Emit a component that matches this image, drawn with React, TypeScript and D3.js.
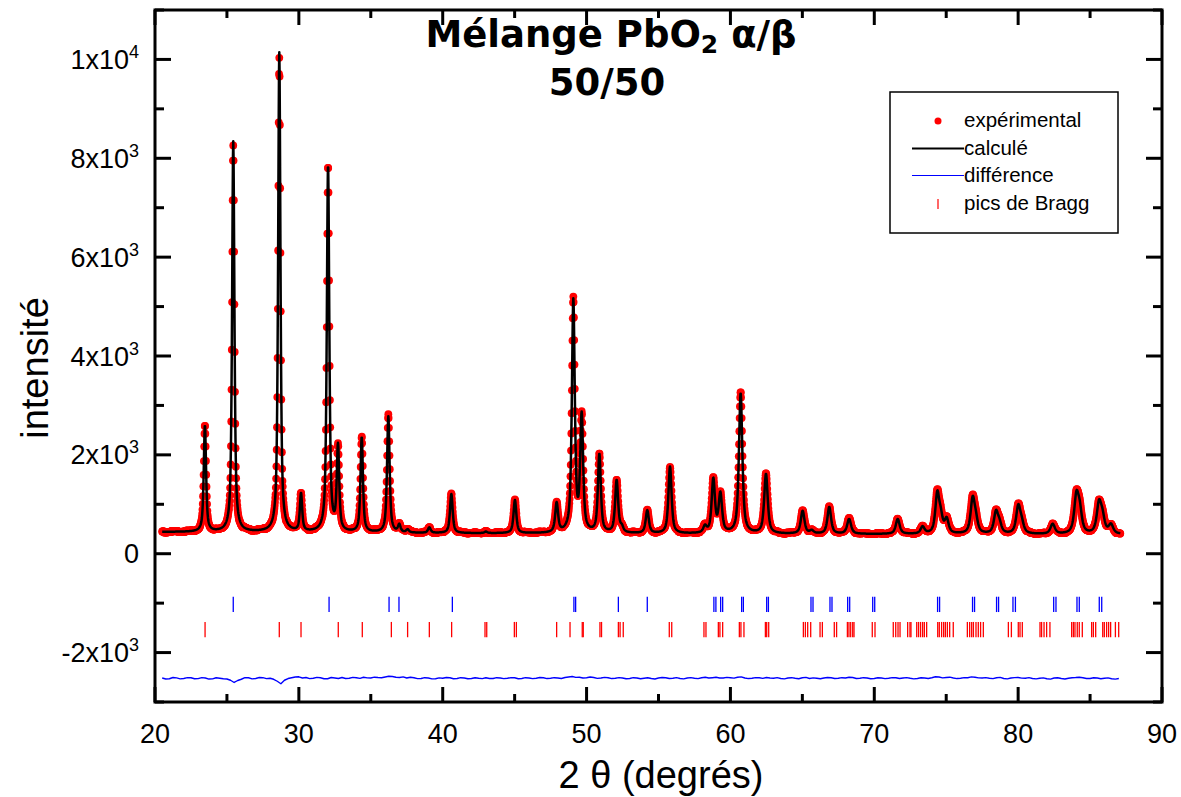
import React, { useMemo } from 'react'
import * as d3 from 'd3'

// --- data ---

// reflections of the refined profile (2θ in degrees, height above background in counts, FWHM in degrees)
const peakCentres = [
  23.47, 25.44, 28.64, 30.15, 32.03, 32.72, 34.37, 36.22, 36.98, 37.56, 39.07, 40.6, 43.0, 45.02,
  47.92, 49.08, 49.66, 50.89, 52.09, 52.45, 54.22, 55.8, 58.23, 58.81, 59.3, 60.71, 62.47, 65.02,
  65.65, 66.87, 68.25, 71.63, 73.36, 74.38, 74.62, 75.03, 76.84, 77.06, 78.46, 78.7, 80.01, 80.25,
  82.4, 84.05, 84.28, 85.62, 85.86, 86.45,
]
const peakHeights = [
  2150, 7900, 9700, 760, 7420, 1700, 1920, 2350, 150, 60, 110, 790, 30, 670,
  590, 4680, 2320, 1580, 1060, 100, 460, 1350, 130, 1080, 780, 2830, 1200, 460,
  60, 540, 300, 300, 140, 780, 300, 280, 680, 230, 420, 180, 540, 180,
  200, 720, 420, 580, 300, 180,
]
const peakWidths = [
  0.19, 0.19, 0.19, 0.19, 0.2, 0.2, 0.2, 0.21, 0.21, 0.22, 0.22, 0.22, 0.22, 0.23,
  0.24, 0.24, 0.24, 0.24, 0.25, 0.25, 0.26, 0.26, 0.27, 0.27, 0.28, 0.28, 0.29, 0.3,
  0.3, 0.3, 0.32, 0.32, 0.32, 0.32, 0.32, 0.32, 0.34, 0.34, 0.34, 0.34, 0.35, 0.35,
  0.36, 0.36, 0.36, 0.37, 0.37, 0.37,
]
const lorentzFraction = 0.7

// background level
const bgAngles = [20.5, 40, 60, 87.1]
const bgCounts = [440, 415, 400, 390]

// scan range
const scanStart = 20.5
const scanEnd = 87.1
const scanStep = 0.02

// difference curve (obs - calc), drawn around -2520, one value every 0.25°
const diffOffset = -2520
const diffStart = 20.5
const diffStep = 0.25
const diffValues = [
  5, -15, -10, 15, 8, -12, -5, 12, 10, -10, -8, 14, 5, -16, -12, 10, 0, -10, -15, -40,
  -85, -45, -20, 12, 10, -12, -5, 15, 12, -8, 0, -20, -60, -110, -40, -5, 10, 25, 30, 5,
  15, -8, 0, 18, 10, -10, -10, 15, 5, -5, 15, -5, 0, 18, 10, -2, 20, 8, 5, 22,
  15, 10, 25, 40, 35, 20, 15, 28, 5, 20, 10, -8, -5, 12, 5, -12, -10, 8, 0, 15,
  10, -10, -5, 12, 5, -10, -5, 10, 0, -8, 10, -5, -5, 12, 5, -8, 0, 14, 10, -10,
  -5, 12, 5, -8, 0, 15, 10, -6, 0, 12, 5, -4, 15, 25, 35, 18, 20, 5, 10, 25,
  15, -2, 5, 18, 10, -6, 0, 14, 5, -10, -5, 12, 5, -10, 0, 10, -5, -14, 5, 15,
  10, -5, 0, 12, -5, -12, 5, 14, 0, -8, 10, 20, 5, 12, 20, 6, 5, 18, 10, 2,
  20, 28, 5, -6, 0, 14, 10, -2, 15, 6, 0, 12, -5, -12, 5, 12, 0, -10, 10, 18,
  -5, 8, 0, -10, 5, 16, 10, -4, 0, 12, 5, 20, 15, -5, 0, 12, 5, -10, -5, 10,
  5, -8, 0, 14, 10, -4, 5, 14, 0, -12, -5, 10, 5, -4, 10, 30, 25, 8, 15, 22,
  5, -6, 0, 14, 10, 28, 20, 8, 5, 14, 0, -8, 10, 18, -5, -12, 5, 14, 15, 4,
  0, 12, -5, -12, 0, 8, -10, -18, 5, 10, -5, -14, 0, 10, 15, 22, 10, -4, -5, 10,
  5, -10, 0, 8, -10, -18, -5,
]

// Bragg positions: phase 1 (blue row) and phase 2 (red row)
const braggBlue = [
  25.44, 32.1, 36.27, 36.96, 40.67, 49.12, 49.24, 52.21, 54.22, 58.85, 58.99, 59.32, 59.46,
  60.78, 60.9, 62.52, 62.64, 65.6, 65.74, 66.92, 67.06, 68.15, 68.29, 69.89, 70.03, 74.4,
  74.54, 76.83, 76.97, 78.5, 78.64, 79.64, 79.81, 82.47, 82.63, 84.09, 84.25, 85.64, 85.81,
]
const braggRed = [
  23.48, 28.64, 30.15, 32.74, 34.41, 36.43, 37.56, 39.07, 40.62, 42.94, 43.06, 44.98, 45.12,
  47.92, 48.85, 49.7, 49.77, 50.93, 51.04, 52.21, 52.33, 52.55, 55.75, 55.92, 58.16, 58.3,
  59.16, 59.27, 59.46, 60.62, 60.73, 60.94, 62.43, 62.52, 62.66, 65.07, 65.21, 65.37, 65.58,
  66.23, 66.39, 67.22, 67.38, 68.13, 68.24, 68.36, 68.5, 68.59, 69.86, 70.05, 71.32, 71.49,
  71.65, 71.79, 72.32, 72.48, 72.55, 72.95, 73.08, 73.22, 73.36, 73.48, 73.64, 74.41, 74.52,
  74.68, 74.82, 74.94, 75.08, 75.24, 75.49, 76.47, 76.63, 76.77, 76.89, 77.07, 77.23, 77.39,
  77.58, 79.32, 79.53, 80.01, 80.13, 80.29, 81.52, 81.63, 81.8, 81.98, 82.21, 83.72, 83.84,
  83.95, 84.11, 84.25, 84.46, 85.11, 85.23, 85.39, 85.88, 85.99, 86.15, 86.29, 86.43, 86.76,
  86.99,
]
const braggBlueLevel = [-870, -1180]
const braggRedLevel = [-1380, -1690]

// axes
const xMajorTicks = [20, 30, 40, 50, 60, 70, 80, 90]
const xMinorTicks = [25, 35, 45, 55, 65, 75, 85]
const yMajorTicks = [-2000, 0, 2000, 4000, 6000, 8000, 10000]
const yMinorTicks = [-3000, -1000, 1000, 3000, 5000, 7000, 9000, 11000]
const yTickMantissa = ['-2x10', '0', '2x10', '4x10', '6x10', '8x10', '1x10']
const yTickExponent = ['3', '', '3', '3', '3', '3', '4']

const legendLabels = ['expérimental', 'calculé', 'différence', 'pics de Bragg']

const FONT = '"Liberation Sans", Arial, Helvetica, sans-serif'
const TITLE_FONT = '"Comic Sans MS", "DejaVu Sans", sans-serif'

function profileAt(t: number, bg: (v: number) => number) {
  let s = bg(t)
  for (let i = 0; i < peakCentres.length; i++) {
    const d = (t - peakCentres[i]) / peakWidths[i]
    if (Math.abs(d) > 60) continue
    const d2 = 4 * d * d
    const lor = 1 / (1 + d2)
    const gau = Math.exp(-Math.LN2 * d2)
    s += peakHeights[i] * (lorentzFraction * lor + (1 - lorentzFraction) * gau)
  }
  return s
}

export default function App() {
  const x = d3.scaleLinear().domain([20, 90]).range([155, 1162])
  const y = d3.scaleLinear().domain([-3000, 11000]).range([702, 10])
  const bg = d3.scaleLinear().domain(bgAngles).range(bgCounts)

  // calculated profile on the scan grid
  const profile = useMemo(() => {
    const n = Math.round((scanEnd - scanStart) / scanStep)
    return d3.range(n + 1).map(i => {
      const t = scanStart + i * scanStep
      return [t, profileAt(t, bg)] as [number, number]
    })
  }, [])

  // observed = calculated + residual (nearest difference value)
  const observed = profile.map(([t, c]) => {
    const k = Math.min(diffValues.length - 1, Math.max(0, Math.round((t - diffStart) / diffStep)))
    return [t, c + diffValues[k]] as [number, number]
  })

  const calcLine = d3.line<[number, number]>().x(d => x(d[0])).y(d => y(d[1]))(profile) || ''
  const diffLine =
    d3
      .line<number>()
      .x((_, i) => x(diffStart + i * diffStep))
      .y(d => y(diffOffset + d))(diffValues) || ''

  const [x0, x1] = x.range()
  const [yb, yt] = y.range()

  return (
    <svg width={1181} height={797} style={{ position: 'absolute', left: 0, top: 0, background: '#fff' }}>
      {/* experimental points */}
      <g fill="#ff0000">
        {observed.map((d, i) => (
          <circle key={i} cx={x(d[0])} cy={y(d[1])} r={3.9} />
        ))}
      </g>
      {/* calculated profile */}
      <path d={calcLine} fill="none" stroke="#000" strokeWidth={2.5} strokeLinejoin="round" />

      {/* Bragg positions */}
      <g stroke="#0000ff" strokeWidth={1.3}>
        {braggBlue.map((b, i) => (
          <line key={i} x1={x(b)} x2={x(b)} y1={y(braggBlueLevel[0])} y2={y(braggBlueLevel[1])} />
        ))}
      </g>
      <g stroke="#ff0000" strokeWidth={1.3}>
        {braggRed.map((b, i) => (
          <line key={i} x1={x(b)} x2={x(b)} y1={y(braggRedLevel[0])} y2={y(braggRedLevel[1])} />
        ))}
      </g>

      {/* difference */}
      <path d={diffLine} fill="none" stroke="#0000ff" strokeWidth={1.4} strokeLinejoin="round" />

      {/* frame + ticks (inward on all four sides) */}
      <g stroke="#000" strokeWidth={3}>
        {xMajorTicks.map(t => (
          <g key={'xM' + t}>
            <line x1={x(t)} x2={x(t)} y1={yb} y2={yb - 15} />
            <line x1={x(t)} x2={x(t)} y1={yt} y2={yt + 15} />
          </g>
        ))}
        {xMinorTicks.map(t => (
          <g key={'xm' + t}>
            <line x1={x(t)} x2={x(t)} y1={yb} y2={yb - 8} />
            <line x1={x(t)} x2={x(t)} y1={yt} y2={yt + 8} />
          </g>
        ))}
        {yMajorTicks.map(t => (
          <g key={'yM' + t}>
            <line x1={x0} x2={x0 + 16} y1={y(t)} y2={y(t)} />
            <line x1={x1} x2={x1 - 16} y1={y(t)} y2={y(t)} />
          </g>
        ))}
        {yMinorTicks.map(t => (
          <g key={'ym' + t}>
            <line x1={x0} x2={x0 + 9} y1={y(t)} y2={y(t)} />
            <line x1={x1} x2={x1 - 9} y1={y(t)} y2={y(t)} />
          </g>
        ))}
        <rect x={x0} y={yt} width={x1 - x0} height={yb - yt} fill="none" />
      </g>

      {/* tick labels */}
      <g fontFamily={FONT} fontSize={27} fill="#000">
        {xMajorTicks.map(t => (
          <text key={t} x={x(t)} y={743} textAnchor="middle">
            {t}
          </text>
        ))}
        {yMajorTicks.map((t, i) => (
          <text key={t} x={139} y={y(t) + 9.5} textAnchor="end">
            {yTickMantissa[i]}
            {yTickExponent[i] && (
              <tspan fontSize={18} dy={-11}>
                {yTickExponent[i]}
              </tspan>
            )}
          </text>
        ))}
      </g>

      {/* axis titles */}
      <text x={661} y={788} textAnchor="middle" fontFamily={FONT} fontSize={38}>
        2 θ (degrés)
      </text>
      <text transform="translate(48,368) rotate(-90)" textAnchor="middle" fontFamily={FONT} fontSize={38}>
        intensité
      </text>

      {/* legend */}
      <g fontFamily={FONT} fontSize={20.5}>
        <rect x={890} y={92} width={228} height={141} fill="#fff" stroke="#000" strokeWidth={1.5} />
        <circle cx={938} cy={121} r={3.5} fill="#ff0000" />
        <line x1={912} x2={964} y1={148.5} y2={148.5} stroke="#000" strokeWidth={2} />
        <line x1={912} x2={964} y1={175.5} y2={175.5} stroke="#0000ff" strokeWidth={1} />
        <line x1={938} x2={938} y1={199} y2={209} stroke="#ff0000" strokeWidth={1.2} />
        {legendLabels.map((l, i) => (
          <text key={l} x={964} y={127 + i * 27.7}>
            {l}
          </text>
        ))}
      </g>

      {/* title */}
      <g fontFamily={TITLE_FONT} fontWeight="bold" fontSize={37} textAnchor="middle">
        <text x={611} y={47}>
          Mélange PbO
          <tspan fontSize={25} dy={6}>
            2
          </tspan>
          <tspan dy={-6}> α/β</tspan>
        </text>
        <text x={607} y={95}>
          50/50
        </text>
      </g>
    </svg>
  )
}
